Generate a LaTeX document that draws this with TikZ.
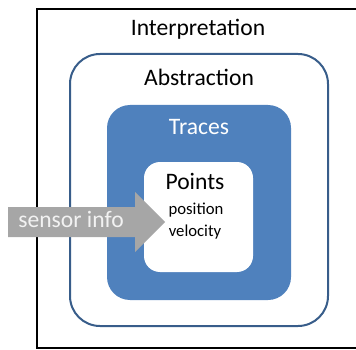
\documentclass[tikz,border=0pt]{standalone}
\usepackage{fontspec}
\setmainfont{Carlito}
\definecolor{tracesblue}{HTML}{4F81BD}
\definecolor{absblue}{HTML}{385D8A}
\definecolor{arrowgray}{HTML}{A6A6A6}
\begin{document}
\begin{tikzpicture}[x=1pt,y=-1pt,
  bigtxt/.style={font=\fontsize{23.6}{26}\selectfont, anchor=base, inner sep=0pt},
  smalltxt/.style={font=\fontsize{16.7}{19}\selectfont, anchor=base, inner sep=0pt}]
\useasboundingbox (0,0) rectangle (356,350);
\clip (0,0) rectangle (356,350);
% outer frame
\draw[black, line width=2pt] (37,9) rectangle (370,348);
% abstraction
\draw[absblue, line width=2pt, rounded corners=30pt] (70,54) rectangle (328,326);
% traces
\fill[tracesblue, rounded corners=23pt] (107,105) rectangle (291,300);
% points
\fill[white, rounded corners=16pt] (144,162) rectangle (253,272);
% arrow
\fill[arrowgray] (8,207) -- (135,207) -- (135,192) -- (165,222) -- (135,252) -- (135,237) -- (8,237) -- cycle;
% texts
\node[bigtxt] (interp) at (198,36) {Interpretation};
\node[bigtxt] (abs) at (199,86) {Abstraction};
\node[bigtxt, text=white] (traces) at (199,135) {Traces};
\node[bigtxt] (points) at (195,189) {Points};
\node[smalltxt] (pos) at (196,214) {position};
\node[smalltxt] (vel) at (195,236) {velocity};
\node[bigtxt, text=white!95!black] (sensor) at (71,227) {sensor info};
\end{tikzpicture}
\end{document}
